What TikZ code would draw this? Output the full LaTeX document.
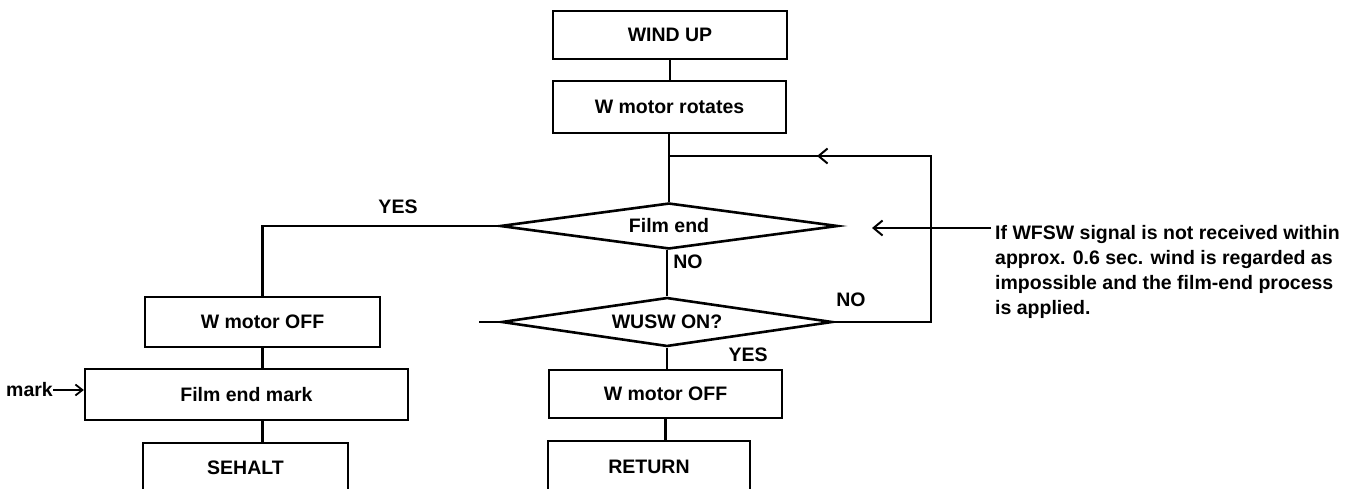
\documentclass[tikz,border=0pt]{standalone}
\usepackage{fontspec}
\setmainfont{Liberation Sans}
\usetikzlibrary{shapes.geometric,arrows.meta}
\begin{document}
\begin{tikzpicture}[x=1pt,y=-1pt,
  every node/.style={font=\fontsize{19.5}{25}\selectfont\bfseries},
  box/.style={draw, line width=2.3pt, inner sep=0pt},
  dia/.style={draw, diamond, aspect=7, inner sep=0pt, line width=2.6pt},
  conn/.style={line width=2.3pt},
  tip/.style={-{Straight Barb[length=9pt,width=15pt,line width=2pt]}},
  smalltip/.style={-{Straight Barb[length=7pt,width=11pt,line width=1.8pt]}}]
\useasboundingbox (0,0) rectangle (1356,489);
\clip (0,0) rectangle (1356,489);
% nodes
\node[box, minimum width=234pt, minimum height=48pt] (windup) at (670,35) {WIND UP};
\node[box, minimum width=233pt, minimum height=52pt] (wrot) at (669.5,107) {W motor rotates};
\node[dia, minimum width=338pt, minimum height=46pt] (filmend) at (669,226) {Film end};
\node[dia, minimum width=331pt, minimum height=49pt] (wusw) at (667,322) {WUSW ON?};
\node[box, minimum width=233pt, minimum height=48pt] (wmoff) at (665.5,394) {W motor OFF};
\node[box, minimum width=202pt, minimum height=52pt] (ret) at (649,467) {RETURN};
\node[box, minimum width=235pt, minimum height=50pt] (wmoffL) at (262.5,322) {W motor OFF};
\node[box, minimum width=323pt, minimum height=51pt] (fem) at (246.5,394.5) {Film end mark};
\node[box, minimum width=205pt, minimum height=50pt] (sehalt) at (245.5,468) {SEHALT};
% labels
\node (yes1) at (398,207) {YES};
\node (no1) at (688,262) {NO};
\node (no2) at (851,300) {NO};
\node (yes2) at (748,355) {YES};
\node[anchor=east, inner sep=0pt] (mark) at (53,390) {mark};
\node[anchor=north west, align=left, inner sep=0pt] (note) at (995,225)
  {If WFSW signal is not received within\\approx. 0.6 sec. wind is regarded as\\impossible and the film-end process\\is applied.};
% coordinates
\coordinate (junc) at (669,156);
\coordinate (looptop) at (931,156);
\coordinate (loopbot) at (931,322);
\coordinate (looparrow) at (817,156);
\coordinate (annstart) at (991,228);
\coordinate (anntip) at (872,228);
\coordinate (stub) at (479,322);
\coordinate (lcorner) at (wmoffL.north |- filmend.west);
% connectors
\draw[conn] (windup.south) -- (windup.south |- wrot.north);
\draw[conn] (wrot.south -| junc) -- (junc) -- (filmend.north);
\draw[conn] (wusw.north |- filmend.south) -- (wusw.north);
\draw[conn] (wusw.south) -- (wusw.south |- wmoff.north);
\draw[conn] (wmoff.south) -- (wmoff.south |- ret.north);
\draw[conn] (filmend.west) -- (lcorner) -- (wmoffL.north);
\draw[conn] (wmoffL.south) -- (wmoffL.south |- fem.north);
\draw[conn] (wmoffL.south |- fem.south) -- (wmoffL.south |- sehalt.north);
\draw[conn] (wusw.east) -- (loopbot) -- (looptop) -- (junc);
\draw[conn,tip] (looptop) -- (looparrow);
\draw[conn,tip] (annstart) -- (anntip);
\draw[conn] (stub) -- (wusw.west);
\draw[conn,smalltip] (mark.east) -- (mark.east -| fem.west);
\end{tikzpicture}
\end{document}
